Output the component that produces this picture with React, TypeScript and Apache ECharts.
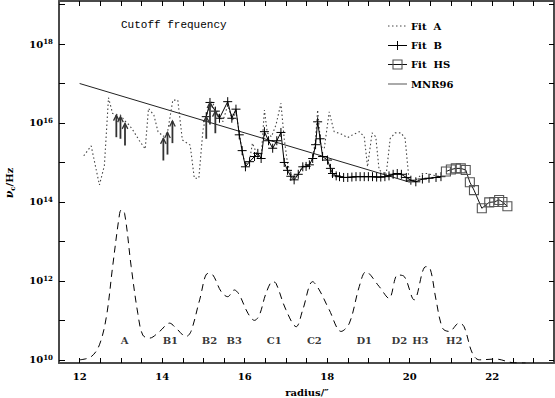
import React, { useEffect, useRef } from "react";
import * as echarts from "echarts";

// ---- data (x = radius in arcsec, y = log10 of cutoff frequency in Hz) ----
const fitA: number[][] = [
  [12.1, 15.17], [12.28, 15.42], [12.48, 14.43], [12.6, 14.92], [12.7, 16.64],
  [12.8, 16.24], [12.89, 16.22], [12.99, 16.2], [13.1, 16.05], [13.2, 15.95],
  [13.29, 15.82], [13.45, 15.55], [13.59, 15.34], [13.67, 16.37], [13.8, 16.2],
  [13.9, 15.78], [14.03, 15.66], [14.13, 15.76], [14.26, 16.58], [14.38, 16.58],
  [14.49, 15.57], [14.68, 15.44], [14.78, 14.6], [14.89, 14.6], [14.99, 15.82],
  [15.07, 16.2], [15.21, 16.54], [15.35, 16.24], [15.47, 16.03], [15.59, 16.45],
  [15.71, 16.05], [15.79, 16.3], [15.87, 15.75], [15.95, 15.2], [16.02, 14.95],
  [16.12, 15.05], [16.19, 15.49], [16.3, 15.2], [16.4, 15.1], [16.48, 16.33],
  [16.55, 15.75], [16.65, 15.65], [16.76, 15.95], [16.88, 16.5], [16.96, 15.6],
  [17.04, 14.98], [17.12, 14.7], [17.2, 14.6], [17.3, 14.72], [17.41, 14.9],
  [17.57, 14.95], [17.65, 15.1], [17.72, 15.6], [17.77, 16.33], [17.85, 15.4],
  [17.93, 15.35], [18.05, 16.28], [18.17, 15.78], [18.34, 15.72], [18.5, 15.63],
  [18.62, 15.7], [18.78, 15.78], [18.9, 15.65], [18.98, 14.89], [19.09, 15.75],
  [19.18, 15.65], [19.26, 14.81], [19.43, 14.68], [19.53, 15.61], [19.65, 15.75],
  [19.79, 15.75], [19.89, 15.61], [19.99, 14.51], [20.15, 14.55], [20.31, 14.72],
  [20.43, 14.72], [20.56, 14.68], [20.76, 14.64],
];

const fitB: number[][] = [
  [15.07, 16.16], [15.16, 16.52], [15.29, 16.3], [15.39, 16.12], [15.59, 16.54],
  [15.69, 16.12], [15.79, 16.35], [15.87, 15.7], [15.94, 15.3], [16.02, 14.89],
  [16.12, 15.02], [16.24, 15.15], [16.32, 15.23], [16.4, 15.1], [16.48, 15.78],
  [16.58, 15.55], [16.68, 15.36], [16.78, 15.55], [16.88, 15.76], [16.96, 15.0],
  [17.04, 14.8], [17.12, 14.65], [17.2, 14.56], [17.3, 14.7], [17.41, 14.89],
  [17.49, 14.9], [17.57, 14.94], [17.65, 15.1], [17.72, 15.45], [17.77, 16.03],
  [17.83, 15.6], [17.89, 15.15], [18.01, 15.06], [18.08, 14.85], [18.13, 14.72],
  [18.22, 14.66], [18.3, 14.64], [18.4, 14.62], [18.5, 14.62], [18.6, 14.63],
  [18.7, 14.64], [18.8, 14.64], [18.9, 14.64], [19.0, 14.64], [19.1, 14.64],
  [19.2, 14.63], [19.3, 14.63], [19.4, 14.64], [19.5, 14.66], [19.6, 14.7],
  [19.7, 14.72], [19.8, 14.7], [19.92, 14.62], [20.03, 14.55], [20.15, 14.51],
  [20.31, 14.58], [20.47, 14.6], [20.64, 14.62], [20.76, 14.64],
];

const fitHS: number[][] = [
  [20.88, 14.77], [21.0, 14.82], [21.12, 14.85], [21.24, 14.85], [21.36, 14.81],
  [21.46, 14.5], [21.56, 14.3], [21.75, 13.84], [21.93, 13.99], [22.05, 14.0],
  [22.17, 14.05], [22.25, 14.0], [22.37, 13.89],
];

const mnr96: number[][] = [[12.0, 17.0], [20.0, 14.5]];

// lower limits (arrow tips)
const lowerLimits: number[][] = [
  [12.89, 16.2], [12.99, 16.16], [13.1, 15.99], [14.03, 15.61], [14.13, 15.76],
  [14.25, 16.05], [15.07, 16.16], [15.16, 16.52], [15.29, 16.3],
];

// emission profile (dashed)
const profile: number[][] = [
  [12.0, 10.0], [12.28, 10.08], [12.48, 10.38], [12.65, 11.1], [12.8, 12.36],
  [12.97, 13.71], [13.01, 13.8], [13.09, 13.71], [13.25, 12.36], [13.41, 11.18],
  [13.53, 10.63], [13.69, 10.55], [13.94, 10.72], [14.18, 10.93], [14.34, 10.8],
  [14.58, 10.59], [14.7, 10.72], [14.91, 11.52], [15.11, 12.19], [15.23, 12.15],
  [15.43, 11.73], [15.59, 11.6], [15.75, 11.77], [15.87, 11.65], [16.08, 11.18],
  [16.24, 11.0], [16.36, 11.14], [16.52, 11.69], [16.68, 11.98], [16.76, 11.94],
  [17.0, 11.27], [17.25, 10.84], [17.41, 11.27], [17.65, 11.98], [17.81, 11.77],
  [18.05, 11.27], [18.34, 10.72], [18.54, 10.93], [18.78, 11.86], [18.94, 12.23],
  [19.26, 11.86], [19.5, 11.56], [19.71, 12.15], [19.87, 12.11], [20.11, 11.52],
  [20.39, 12.36], [20.49, 12.33], [20.64, 11.52], [20.8, 10.8], [20.96, 10.72],
  [21.2, 10.93], [21.32, 10.84], [21.52, 10.17], [21.69, 10.0], [22.09, 10.02],
  [22.49, 9.93], [22.81, 9.92],
];

const peakNames = ["A", "B1", "B2", "B3", "C1", "C2", "D1", "D2", "H3", "H2"];
const peakX = [13.09, 14.2, 15.15, 15.75, 16.72, 17.69, 18.9, 19.75, 20.26, 21.08];
const peakLabelLevel = 10.49;

const xTicks: number[] = [];
for (let v = 12; v <= 23.01; v += 0.5) xTicks.push(v);
const xLabels = [12, 14, 16, 18, 20, 22];
const yTicks = [10, 11, 12, 13, 14, 15, 16, 17, 18, 19];
const yLabels = [10, 12, 14, 16, 18];

const X_MIN = 11.5, X_MAX = 23.5, Y_MIN = 9.92, Y_MAX = 19.09;
const ARROW_LEN = 0.56;
const SERIF = "DejaVu Serif";
const FRAME = "#4a4a4a";

export default function App() {
  const ref = useRef<HTMLDivElement>(null);
  useEffect(() => {
    document.body.style.margin = "0";
    const chart = echarts.init(ref.current!, null, { renderer: "svg" });
    const legendY = [26, 45.5, 64.5, 84];
    const lx0 = 388, lx1 = 407, ltx = 411;
    const option: any = {
      animation: false,
      backgroundColor: "#fff",
      grid: { left: 59, right: 1, top: 1, bottom: 35, containLabel: false },
      xAxis: [
        {
          type: "value", min: X_MIN, max: X_MAX, interval: 0.5,
          axisLine: { show: true, onZero: false, lineStyle: { color: FRAME, width: 2 } },
          axisTick: { show: true, inside: true, length: 5, customValues: xTicks, lineStyle: { color: "#000", width: 1 } },
          axisLabel: {
            customValues: xLabels, margin: 8, color: "#000", fontFamily: SERIF,
            fontWeight: "bold", fontSize: 10, formatter: (v: number) => String(v),
          },
          splitLine: { show: false },
        },
        {
          type: "value", position: "top", min: X_MIN, max: X_MAX, interval: 0.5,
          axisLine: { show: true, onZero: false, lineStyle: { color: FRAME, width: 2 } },
          axisTick: { show: true, inside: true, length: 5, customValues: xTicks, lineStyle: { color: "#000", width: 1 } },
          axisLabel: { show: false },
          splitLine: { show: false },
        },
      ],
      yAxis: [
        {
          type: "value", min: Y_MIN, max: Y_MAX,
          axisLine: { show: true, onZero: false, lineStyle: { color: FRAME, width: 2 } },
          axisTick: { show: true, inside: true, length: 6, customValues: yTicks, lineStyle: { color: "#000", width: 1 } },
          axisLabel: {
            customValues: yLabels, margin: 6,
            formatter: (v: number) => `{b|10}{s|${v}}`,
            rich: {
              b: { fontFamily: SERIF, fontWeight: "bold", fontSize: 10, color: "#000" },
              s: { fontFamily: SERIF, fontWeight: "bold", fontSize: 7, color: "#000", verticalAlign: "bottom", padding: [0, 0, 5, 0] },
            },
          },
          splitLine: { show: false },
        },
        {
          type: "value", position: "right", min: Y_MIN, max: Y_MAX,
          axisLine: { show: true, onZero: false, lineStyle: { color: FRAME, width: 2 } },
          axisTick: { show: true, inside: true, length: 5, customValues: yTicks, lineStyle: { color: "#000", width: 1 } },
          axisLabel: { show: false },
          splitLine: { show: false },
        },
      ],
      series: [
        {
          name: "profile", type: "line", data: profile, smooth: 0.35, symbol: "none",
          lineStyle: { color: "#000", width: 1, type: [7, 5] }, z: 2,
        },
        {
          name: "MNR96", type: "line", data: mnr96, symbol: "none",
          lineStyle: { color: "#222", width: 1 }, z: 3,
        },
        {
          name: "Fit A", type: "line", data: fitA, symbol: "none",
          lineStyle: { color: "#444", width: 1.1, type: [1.5, 2.5] }, z: 4,
        },
        {
          name: "Fit B", type: "line", data: fitB,
          symbol: "path://M0,5L10,5M5,0L5,10", symbolSize: 9,
          itemStyle: { color: "none", borderColor: "#000", borderWidth: 1 },
          lineStyle: { color: "#000", width: 1 }, z: 5,
        },
        {
          name: "Fit HS", type: "line", data: fitHS, symbol: "rect", symbolSize: 9,
          itemStyle: { color: "none", borderColor: "#555", borderWidth: 1.1 },
          lineStyle: { color: "#111", width: 1 }, z: 5,
        },
        {
          name: "limits", type: "custom", data: lowerLimits, z: 6,
          renderItem: (params: any, api: any) => {
            const x = api.value(0), top = api.value(1);
            const p1 = api.coord([x, top]);
            const p0 = api.coord([x, top - ARROW_LEN]);
            return {
              type: "group",
              children: [
                { type: "line", shape: { x1: p0[0], y1: p0[1], x2: p1[0], y2: p1[1] }, style: { stroke: "#333", lineWidth: 1.8 } },
                { type: "polyline", shape: { points: [[p1[0] - 2.8, p1[1] + 5.5], [p1[0], p1[1]], [p1[0] + 2.8, p1[1] + 5.5]] }, style: { stroke: "#333", lineWidth: 1.3, fill: "none" } },
              ],
            };
          },
        },
        {
          name: "peaks", type: "scatter", symbolSize: 1,
          itemStyle: { color: "rgba(0,0,0,0)" },
          data: peakNames.map((n, i) => ({ name: n, value: [peakX[i], peakLabelLevel] })),
          label: {
            show: true, position: "inside", formatter: "{b}", color: "#000",
            fontFamily: SERIF, fontWeight: "bold", fontSize: 10,
          },
          z: 7,
        },
      ],
      graphic: [
        {
          type: "text", left: 121, top: 19,
          style: { text: "Cutoff frequency", fontFamily: "Liberation Mono", fontSize: 11, fill: "#000" },
        },
        // legend
        { type: "line", shape: { x1: lx0, y1: legendY[0], x2: lx1, y2: legendY[0] }, style: { stroke: "#444", lineWidth: 1, lineDash: [1.5, 2.5] } },
        { type: "line", shape: { x1: lx0, y1: legendY[1], x2: lx1, y2: legendY[1] }, style: { stroke: "#000", lineWidth: 1 } },
        { type: "line", shape: { x1: (lx0 + lx1) / 2, y1: legendY[1] - 4.5, x2: (lx0 + lx1) / 2, y2: legendY[1] + 4.5 }, style: { stroke: "#000", lineWidth: 1 } },
        { type: "line", shape: { x1: lx0, y1: legendY[2], x2: lx1, y2: legendY[2] }, style: { stroke: "#111", lineWidth: 1 } },
        { type: "rect", shape: { x: (lx0 + lx1) / 2 - 4.5, y: legendY[2] - 4.5, width: 9, height: 9 }, style: { stroke: "#555", lineWidth: 1.1, fill: "none" } },
        { type: "line", shape: { x1: lx0, y1: legendY[3], x2: lx1, y2: legendY[3] }, style: { stroke: "#aaa", lineWidth: 2 } },
        ...["Fit  A", "Fit  B", "Fit  HS", "MNR96"].map((t, i) => ({
          type: "text", x: ltx, y: legendY[i],
          style: { text: t, fontFamily: SERIF, fontWeight: "bold", fontSize: 10, fill: "#000", textVerticalAlign: "middle", verticalAlign: "middle" },
        })),
        {
          type: "text", x: 307, y: 392,
          style: { text: "radius/\u2033", fontFamily: SERIF, fontWeight: "bold", fontSize: 10, fill: "#000", align: "center", verticalAlign: "middle" },
        },
        {
          type: "text", x: 9, y: 183, rotation: Math.PI / 2,
          style: {
            text: "{n|\u03bd}{c|c}{h|/Hz}", align: "center", verticalAlign: "middle",
            rich: {
              n: { fontFamily: SERIF, fontStyle: "italic", fontWeight: "bold", fontSize: 11, fill: "#000", color: "#000" },
              c: { fontFamily: SERIF, fontWeight: "bold", fontSize: 7, fill: "#000", color: "#000", verticalAlign: "top", padding: [6, 0, 0, 0] },
              h: { fontFamily: SERIF, fontWeight: "bold", fontSize: 10, fill: "#000", color: "#000" },
            },
          },
        },
      ],
    };
    chart.setOption(option);
    return () => chart.dispose();
  }, []);
  return <div ref={ref} style={{ width: 555, height: 398, position: "absolute", left: 0, top: 0 }} />;
}
